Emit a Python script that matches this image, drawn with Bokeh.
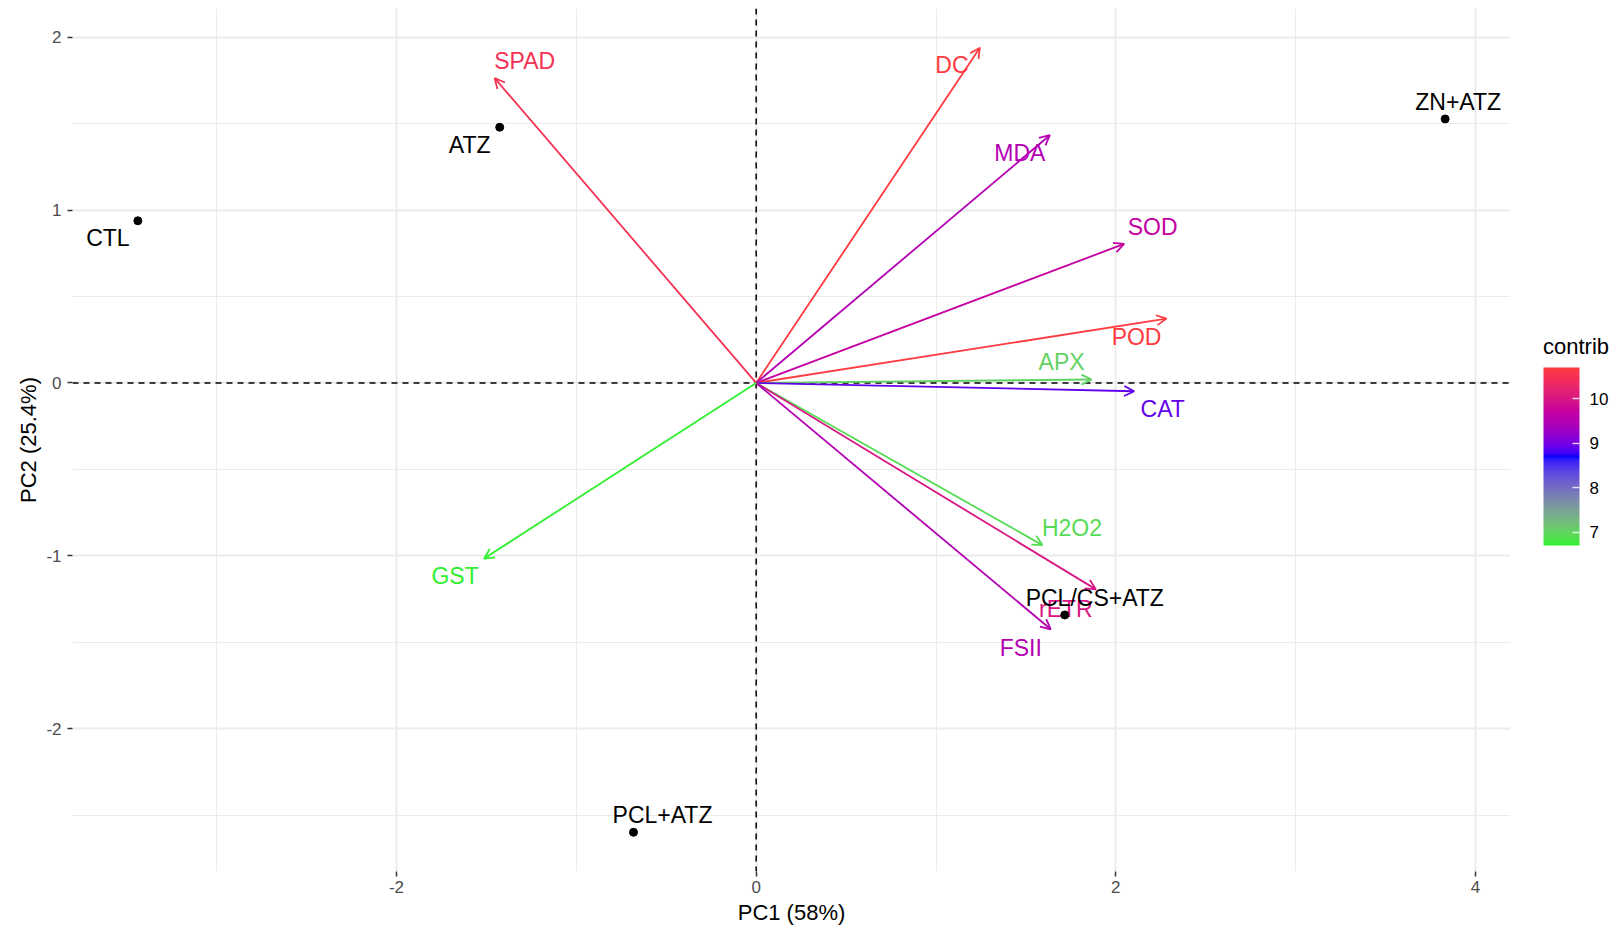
import numpy as np
from bokeh.plotting import figure
from bokeh.models import (Arrow, OpenHead, Span, ColorBar, LinearColorMapper,
                          FixedTicker, ColumnDataSource, Legend, LegendItem)
from bokeh.core.properties import value
from bokeh.embed import file_html
from bokeh.resources import INLINE

# ---------------- data ----------------
obs_names = ["CTL", "ATZ", "ZN+ATZ", "PCL/CS+ATZ", "PCL+ATZ"]
obs_pc1 = [-3.438, -1.426, 3.831, 1.716, -0.682]
obs_pc2 = [0.938, 1.479, 1.527, -1.342, -2.599]

var_names = ["SPAD", "DC", "MDA", "SOD", "POD", "APX", "CAT", "H2O2", "rETR", "FSII", "GST"]
var_pc1 = [-1.454, 1.244, 1.633, 2.046, 2.282, 1.865, 2.102, 1.592, 1.889, 1.638, -1.513]
var_pc2 = [1.763, 1.939, 1.433, 0.804, 0.372, 0.020, -0.048, -0.938, -1.194, -1.425, -1.016]
var_contrib = [10.5, 10.7, 9.5, 9.7, 10.7, 7.0, 8.9, 6.9, 10.0, 9.5, 6.7]

x_ticks = [-2, 0, 2, 4]
y_ticks = [-2, -1, 0, 1, 2]
legend_ticks = [7, 8, 9, 10]
legend_title = "contrib"

# label offsets in screen pixels (layout, not data)
obs_dx = [-30, -30, 13, 30, 29]
obs_dy = [17, 18, -17, -17, -17]
var_dx = [30, -28, -30, 28.5, -30, -30, 28.5, 29.5, -30, -30, -29]
var_dy = [-16.7, 17, 18, -17, 18, -17, 18, -16.7, 20, 18.7, 17.7]

FONT = "Liberation Sans"
LABEL_PX = 23

# ---------------- colour gradient (Lab interpolation) ----------------
def hex_to_rgb(h):
    h = h.lstrip("#")
    return np.array([int(h[i:i + 2], 16) for i in (0, 2, 4)], dtype=float) / 255.0

M = np.array([[0.4124564, 0.3575761, 0.1804375],
              [0.2126729, 0.7151522, 0.0721750],
              [0.0193339, 0.1191920, 0.9503041]])
Minv = np.linalg.inv(M)
WHITE = M @ np.ones(3)

def rgb_to_lab(rgb):
    lin = np.where(rgb <= 0.04045, rgb / 12.92, ((rgb + 0.055) / 1.055) ** 2.4)
    xyz = M @ lin / WHITE
    f = np.where(xyz > (6 / 29) ** 3, np.cbrt(xyz), xyz / (3 * (6 / 29) ** 2) + 4 / 29)
    return np.array([116 * f[1] - 16, 500 * (f[0] - f[1]), 200 * (f[1] - f[2])])

def lab_to_hex(lab):
    fy = (lab[0] + 16) / 116
    fx = fy + lab[1] / 500
    fz = fy - lab[2] / 200
    f = np.array([fx, fy, fz])
    xyz = np.where(f > 6 / 29, f ** 3, 3 * (6 / 29) ** 2 * (f - 4 / 29)) * WHITE
    lin = Minv @ xyz
    lin = np.clip(lin, 0, 1)
    rgb = np.where(lin <= 0.0031308, 12.92 * lin, 1.055 * lin ** (1 / 2.4) - 0.055)
    rgb = np.clip(np.round(rgb * 255), 0, 255).astype(int)
    return "#%02x%02x%02x" % tuple(rgb)

stops = [rgb_to_lab(hex_to_rgb(c)) for c in ("#2ef02e", "#0000ff", "#ff3a40")]
cmin, cmax = min(var_contrib), max(var_contrib)

def grad(v):
    t = (v - cmin) / (cmax - cmin)
    t = min(max(t, 0.0), 1.0)
    if t <= 0.5:
        u = t / 0.5
        lab = stops[0] * (1 - u) + stops[1] * u
    else:
        u = (t - 0.5) / 0.5
        lab = stops[1] * (1 - u) + stops[2] * u
    return lab_to_hex(lab)

palette = [grad(cmin + (cmax - cmin) * i / 255) for i in range(256)]
var_colors = [grad(v) for v in var_contrib]

# ---------------- ranges (5% expansion like ggplot) ----------------
all_x = obs_pc1 + var_pc1 + [0]
all_y = obs_pc2 + var_pc2 + [0]
xr = max(all_x) - min(all_x)
yr = max(all_y) - min(all_y)
x_range = (min(all_x) - 0.05 * xr, max(all_x) + 0.05 * xr)
y_range = (min(all_y) - 0.05 * yr, max(all_y) + 0.05 * yr)

p = figure(frame_width=1438, frame_height=863, x_range=x_range, y_range=y_range,
           output_backend="svg", toolbar_location=None,
           min_border_left=72, min_border_top=8, min_border_bottom=57, min_border_right=106)
p.outline_line_color = None
p.background_fill_color = "white"

# grids
p.xaxis.ticker = FixedTicker(ticks=x_ticks, minor_ticks=[-3, -1, 1, 3])
p.yaxis.ticker = FixedTicker(ticks=y_ticks, minor_ticks=[-2.5, -1.5, -0.5, 0.5, 1.5])
p.xaxis.major_label_overrides = {t: str(t) for t in x_ticks}
p.yaxis.major_label_overrides = {t: str(t) for t in y_ticks}
for g in (p.xgrid, p.ygrid):
    g.grid_line_color = "#ebebeb"
    g.grid_line_width = 2
    g.minor_grid_line_color = "#ebebeb"
    g.minor_grid_line_width = 1

for ax in (p.xaxis, p.yaxis):
    ax.axis_line_color = None
    ax.major_tick_line_color = "#333333"
    ax.major_tick_line_width = 1.5
    ax.major_tick_out = 5
    ax.major_tick_in = 0
    ax.minor_tick_line_color = None
    ax.major_label_text_font = FONT
    ax.major_label_text_font_size = "17px"
    ax.major_label_text_color = "#4d4d4d"
    ax.axis_label_text_font = FONT
    ax.axis_label_text_font_size = "22px"
    ax.axis_label_text_font_style = "normal"
    ax.axis_label_text_color = "black"
    ax.major_label_standoff = 4
p.yaxis.major_label_standoff = 6
p.xaxis.axis_label = "PC1 (58%)"
p.yaxis.axis_label = "PC2 (25.4%)"
p.xaxis.axis_label_standoff = 4
p.yaxis.axis_label_standoff = 2

# dashed zero lines
p.add_layout(Span(location=0, dimension="height", line_color="black", line_width=1.5, line_dash="6 5"))
p.add_layout(Span(location=0, dimension="width", line_color="black", line_width=1.5, line_dash="6 5"))

# variable arrows
for xe, ye, col in zip(var_pc1, var_pc2, var_colors):
    p.add_layout(Arrow(x_start=0, y_start=0, x_end=xe, y_end=ye,
                       line_color=col, line_width=1.8,
                       end=OpenHead(size=10, line_color=col, line_width=1.8)))

vsrc = ColumnDataSource(dict(x=var_pc1, y=var_pc2, text=var_names, color=var_colors,
                             dx=var_dx, dy=var_dy))
p.text(x="x", y="y", text="text", source=vsrc, text_color="color",
       x_offset="dx", y_offset="dy", text_align="center", text_baseline="alphabetic",
       text_font=value(FONT), text_font_size=f"{LABEL_PX}px")

# observation points
osrc = ColumnDataSource(dict(x=obs_pc1, y=obs_pc2, text=obs_names,
                             dx=obs_dx, dy=obs_dy))
p.scatter(x="x", y="y", source=osrc, size=8, color="black")
p.text(x="x", y="y", text="text", source=osrc, text_color="black",
       x_offset="dx", y_offset="dy", text_align="center", text_baseline="alphabetic",
       text_font=value(FONT), text_font_size=f"{LABEL_PX}px")

# colour bar (placed to the right of the frame)
mapper = LinearColorMapper(palette=palette, low=cmin, high=cmax)
cb = ColorBar(color_mapper=mapper, ticker=FixedTicker(ticks=legend_ticks),
              orientation="vertical",
              width=36, height=178, location=(1471, 326),
              major_label_text_font=FONT, major_label_text_font_size="17px",
              major_label_text_color="black", label_standoff=10,
              major_tick_line_color="white", major_tick_line_alpha=0.8,
              major_tick_in=7, major_tick_out=0, major_tick_line_width=1.5,
              minor_tick_line_color=None, bar_line_color=None,
              border_line_color=None, background_fill_color=None,
              margin=0, padding=0)
p.add_layout(cb)

# legend title drawn via an (otherwise empty) legend in the right side panel
dummy = p.scatter(x=[], y=[], size=1, fill_alpha=0, line_alpha=0)
leg = Legend(items=[LegendItem(label=" ", renderers=[dummy])],
             title=legend_title, title_text_font=FONT, title_text_font_size="22px",
             title_text_font_style="normal", title_text_color="black",
             title_standoff=0, location=(33, 510),
             glyph_height=1, glyph_width=1, label_height=1, label_width=1,
             label_text_font_size="1px", spacing=0, padding=0, margin=0,
             border_line_color=None, background_fill_alpha=0)
p.add_layout(leg, "right")

open("out.html", "w").write(file_html(p, INLINE))
